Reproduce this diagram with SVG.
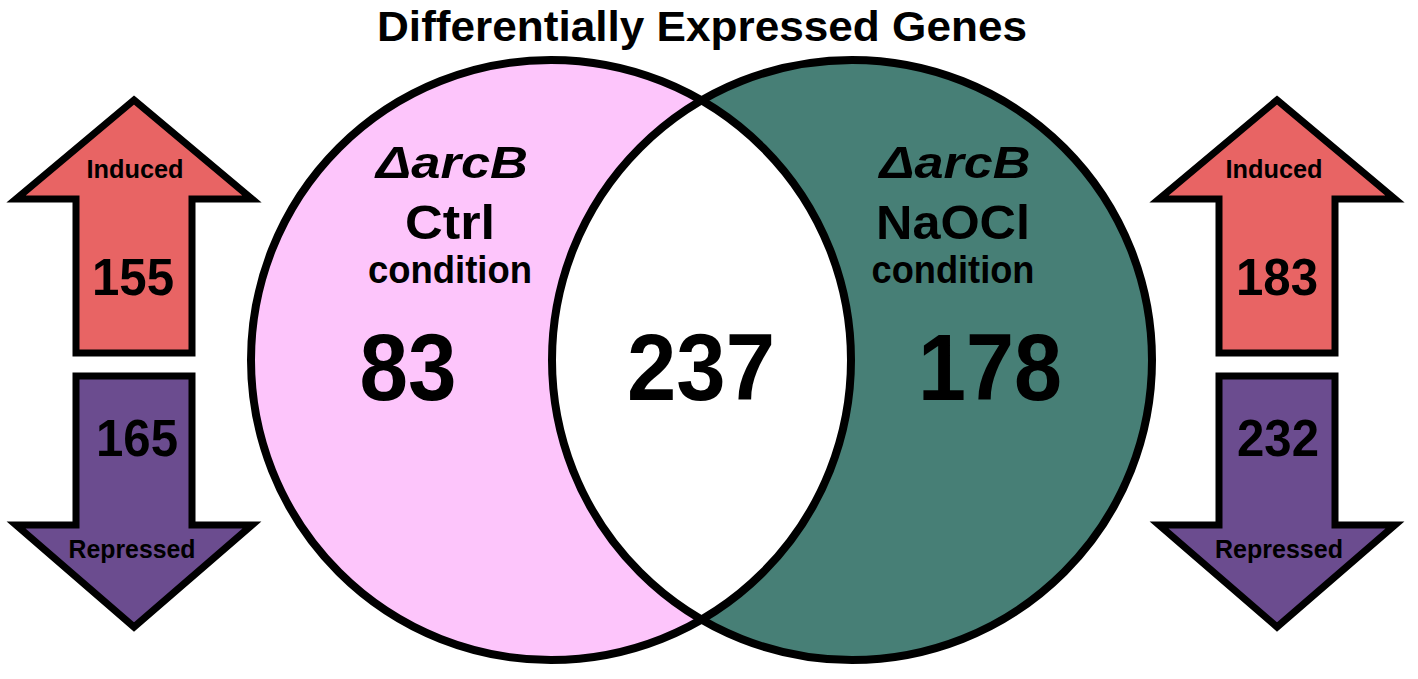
<svg xmlns="http://www.w3.org/2000/svg" width="1418" height="679" viewBox="0 0 1418 679">
  <style>
    text { font-family: "Liberation Sans", Arial, Helvetica, sans-serif; font-weight: bold; fill: #000; text-anchor: middle; }
    .title { font-size: 43px; }
    .gene { font-size: 45px; font-style: italic; }
    .cond { font-size: 48px; }
    .condsm { font-size: 39px; }
    .big { font-size: 95px; }
    .albl { font-size: 25px; }
    .anum { font-size: 52px; }
    .up { fill: #E86464; stroke: #000; stroke-width: 7; stroke-linejoin: miter; stroke-miterlimit: 10; }
    .down { fill: #6B4C8F; stroke: #000; stroke-width: 7; stroke-linejoin: miter; stroke-miterlimit: 10; }
    .ring { fill: none; stroke: #000; stroke-width: 8; }
  </style>
  <rect width="1418" height="679" fill="#FFFFFF"/>

  <g id="title">
    <text class="title" x="702" y="41" textLength="650" lengthAdjust="spacingAndGlyphs">Differentially Expressed Genes</text>
  </g>

  <g id="venn">
    <circle cx="551" cy="360" r="300" fill="#FDC5FB"/>
    <circle cx="852" cy="360" r="300" fill="#477F76"/>
    <path d="M 701.5 100.5 A 300 300 0 0 1 701.5 619.5 A 300 300 0 0 1 701.5 100.5 Z" fill="#FFFFFF"/>
    <circle class="ring" cx="551" cy="360" r="300"/>
    <circle class="ring" cx="852" cy="360" r="300"/>
  </g>

  <g id="ctrl-set">
    <text class="gene" x="452" y="178" textLength="152" lengthAdjust="spacingAndGlyphs">ΔarcB</text>
    <text class="cond" x="450" y="239" textLength="90" lengthAdjust="spacingAndGlyphs">Ctrl</text>
    <text class="condsm" x="450" y="283" textLength="164" lengthAdjust="spacingAndGlyphs">condition</text>
    <text class="big" x="408" y="400" textLength="97" lengthAdjust="spacingAndGlyphs">83</text>
  </g>

  <g id="overlap">
    <text class="big" x="701" y="400" textLength="148" lengthAdjust="spacingAndGlyphs">237</text>
  </g>

  <g id="naocl-set">
    <text class="gene" x="955" y="178" textLength="151" lengthAdjust="spacingAndGlyphs">ΔarcB</text>
    <text class="cond" x="953" y="239" textLength="154" lengthAdjust="spacingAndGlyphs">NaOCl</text>
    <text class="condsm" x="953" y="283" textLength="163" lengthAdjust="spacingAndGlyphs">condition</text>
    <text class="big" x="990" y="400" textLength="144" lengthAdjust="spacingAndGlyphs">178</text>
  </g>

  <g id="ctrl-induced">
    <polygon class="up" points="134,100 252,199 192,199 192,353 76,353 76,199 16,199"/>
    <text class="albl" x="135" y="178" textLength="97" lengthAdjust="spacingAndGlyphs">Induced</text>
    <text class="anum" x="133" y="295" textLength="82" lengthAdjust="spacingAndGlyphs">155</text>
  </g>
  <g id="ctrl-repressed">
    <polygon class="down" points="76,376 192,376 192,525 252,525 134,627 16,525 76,525"/>
    <text class="anum" x="137" y="456" textLength="82" lengthAdjust="spacingAndGlyphs">165</text>
    <text class="albl" x="132" y="558" textLength="127" lengthAdjust="spacingAndGlyphs">Repressed</text>
  </g>

  <g id="naocl-induced">
    <polygon class="up" points="1277,100 1395,199 1335,199 1335,353 1219,353 1219,199 1159,199"/>
    <text class="albl" x="1274" y="178" textLength="97" lengthAdjust="spacingAndGlyphs">Induced</text>
    <text class="anum" x="1277" y="295" textLength="82" lengthAdjust="spacingAndGlyphs">183</text>
  </g>
  <g id="naocl-repressed">
    <polygon class="down" points="1219,376 1335,376 1335,525 1395,525 1277,627 1159,525 1219,525"/>
    <text class="anum" x="1278" y="456" textLength="82" lengthAdjust="spacingAndGlyphs">232</text>
    <text class="albl" x="1279" y="558" textLength="128" lengthAdjust="spacingAndGlyphs">Repressed</text>
  </g>

  <g id="connectors"></g>
</svg>
